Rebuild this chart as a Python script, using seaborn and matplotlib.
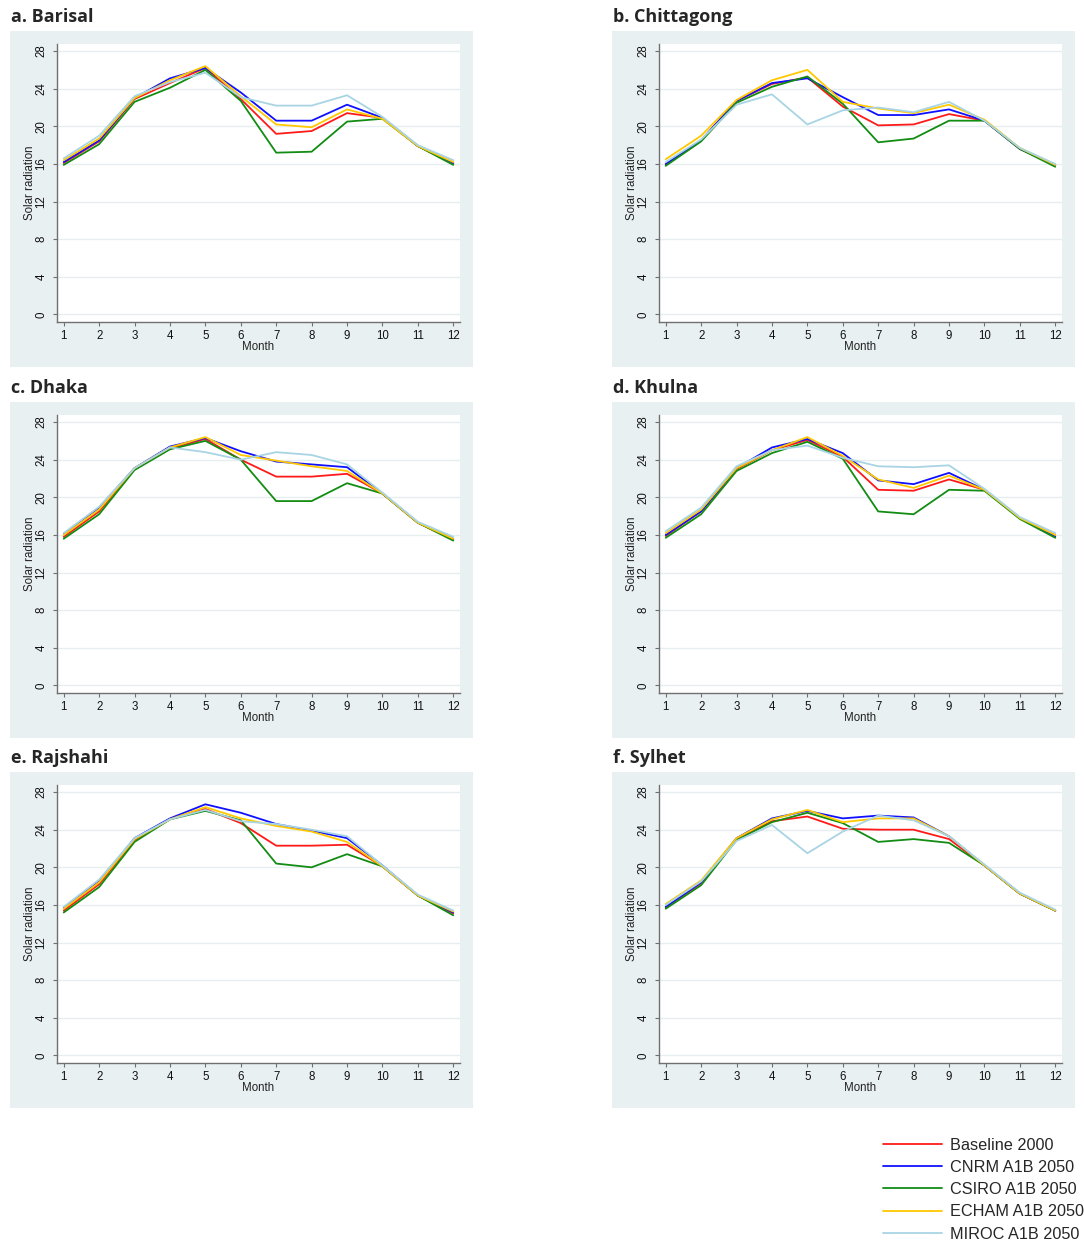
import matplotlib
matplotlib.use("Agg")
import matplotlib.pyplot as plt
import pandas as pd
import seaborn as sns
from matplotlib.lines import Line2D

# ---- data: monthly mean solar radiation ----
months = list(range(1, 13))
scenarios = ["Baseline 2000", "CNRM A1B 2050", "CSIRO A1B 2050",
             "ECHAM A1B 2050", "MIROC A1B 2050"]
line_colors = ["#ff1a1a", "#1010ff", "#128c12", "#ffc800", "#a8d4e4"]
y_ticks = [0, 4, 8, 12, 16, 20, 24, 28]

barisal = {
    "Baseline 2000":  [16.1, 18.4, 22.9, 24.6, 26.2, 22.9, 19.2, 19.5, 21.4, 20.9, 17.9, 16.1],
    "CNRM A1B 2050":  [16.2, 18.5, 23.0, 25.1, 26.2, 23.6, 20.6, 20.6, 22.3, 20.9, 17.9, 16.1],
    "CSIRO A1B 2050": [15.9, 18.1, 22.6, 24.1, 26.0, 22.7, 17.2, 17.3, 20.5, 20.8, 17.9, 15.9],
    "ECHAM A1B 2050": [16.4, 18.7, 23.0, 24.9, 26.4, 23.2, 20.2, 19.9, 21.8, 20.8, 17.9, 16.2],
    "MIROC A1B 2050": [16.6, 19.0, 23.2, 24.7, 25.7, 23.1, 22.2, 22.2, 23.3, 21.0, 18.0, 16.4],
}
chittagong = {
    "Baseline 2000":  [15.9, 18.5, 22.7, 24.5, 25.2, 22.1, 20.1, 20.2, 21.3, 20.6, 17.6, 15.9],
    "CNRM A1B 2050":  [16.0, 18.5, 22.7, 24.6, 25.1, 23.1, 21.2, 21.2, 21.8, 20.6, 17.6, 15.9],
    "CSIRO A1B 2050": [15.8, 18.4, 22.5, 24.2, 25.3, 22.4, 18.3, 18.7, 20.6, 20.6, 17.6, 15.7],
    "ECHAM A1B 2050": [16.5, 19.0, 22.8, 24.9, 26.0, 22.6, 21.9, 21.4, 22.3, 20.7, 17.7, 15.9],
    "MIROC A1B 2050": [16.2, 18.6, 22.3, 23.4, 20.2, 21.7, 22.0, 21.5, 22.6, 20.6, 17.7, 16.0],
}
dhaka = {
    "Baseline 2000":  [15.8, 18.5, 23.1, 25.2, 26.2, 24.0, 22.2, 22.2, 22.5, 20.4, 17.3, 15.5],
    "CNRM A1B 2050":  [16.1, 18.9, 23.1, 25.4, 26.3, 24.9, 23.8, 23.5, 23.2, 20.4, 17.3, 15.6],
    "CSIRO A1B 2050": [15.6, 18.2, 22.9, 25.1, 26.0, 24.0, 19.6, 19.6, 21.5, 20.4, 17.3, 15.4],
    "ECHAM A1B 2050": [16.0, 18.7, 23.1, 25.3, 26.4, 24.5, 23.9, 23.3, 22.8, 20.4, 17.3, 15.6],
    "MIROC A1B 2050": [16.2, 19.0, 23.1, 25.3, 24.8, 24.0, 24.8, 24.5, 23.5, 20.5, 17.4, 15.8],
}
khulna = {
    "Baseline 2000":  [15.9, 18.5, 23.0, 25.0, 26.1, 24.3, 20.8, 20.7, 21.9, 20.8, 17.8, 16.0],
    "CNRM A1B 2050":  [16.0, 18.5, 23.1, 25.3, 26.2, 24.7, 21.8, 21.4, 22.6, 20.8, 17.8, 15.8],
    "CSIRO A1B 2050": [15.7, 18.2, 22.8, 24.7, 25.9, 24.1, 18.5, 18.2, 20.8, 20.7, 17.7, 15.7],
    "ECHAM A1B 2050": [16.2, 18.7, 23.1, 25.0, 26.4, 24.4, 21.9, 21.0, 22.3, 20.8, 17.8, 16.0],
    "MIROC A1B 2050": [16.4, 18.9, 23.3, 25.0, 25.5, 24.2, 23.3, 23.2, 23.4, 20.9, 17.9, 16.2],
}
rajshahi = {
    "Baseline 2000":  [15.4, 18.2, 22.9, 25.1, 26.2, 24.7, 22.3, 22.3, 22.4, 20.1, 17.0, 15.1],
    "CNRM A1B 2050":  [15.7, 18.5, 23.1, 25.2, 26.7, 25.8, 24.6, 23.9, 23.1, 20.2, 17.0, 15.2],
    "CSIRO A1B 2050": [15.2, 17.9, 22.7, 25.1, 26.0, 25.0, 20.4, 20.0, 21.4, 20.1, 17.0, 14.9],
    "ECHAM A1B 2050": [15.6, 18.4, 23.0, 25.1, 26.4, 25.2, 24.4, 23.8, 22.7, 20.1, 17.0, 15.3],
    "MIROC A1B 2050": [15.8, 18.7, 23.1, 25.1, 26.1, 24.9, 24.6, 24.0, 23.3, 20.2, 17.1, 15.4],
}
sylhet = {
    "Baseline 2000":  [15.7, 18.3, 23.0, 24.9, 25.4, 24.1, 24.0, 24.0, 23.0, 20.2, 17.2, 15.4],
    "CNRM A1B 2050":  [15.8, 18.4, 23.1, 25.2, 26.0, 25.2, 25.5, 25.3, 23.3, 20.2, 17.2, 15.4],
    "CSIRO A1B 2050": [15.6, 18.1, 22.9, 24.8, 25.8, 24.7, 22.7, 23.0, 22.6, 20.2, 17.2, 15.4],
    "ECHAM A1B 2050": [16.1, 18.6, 23.1, 25.1, 26.1, 24.8, 25.2, 25.2, 23.3, 20.2, 17.2, 15.4],
    "MIROC A1B 2050": [16.0, 18.5, 22.8, 24.5, 21.5, 23.8, 25.5, 25.0, 23.3, 20.3, 17.3, 15.5],
}

panels = [("a. Barisal", barisal), ("b. Chittagong", chittagong),
          ("c. Dhaka", dhaka), ("d. Khulna", khulna),
          ("e. Rajshahi", rajshahi), ("f. Sylhet", sylhet)]

# ---- style ----
sns.set_theme(style="white")
plt.rcParams["font.family"] = ["Liberation Sans", "DejaVu Sans"]

W, H = 1084, 1243
fig = plt.figure(figsize=(W / 100, H / 100), dpi=100)
fig.patch.set_facecolor("white")

panel_bg = "#e9f0f2"
grid_col = "#e6eef0"
axis_col = "#707070"
palette = dict(zip(scenarios, line_colors))


def px_rect(x0, y0, x1, y1):
    """Pixel box (top-left origin) -> figure fraction [left, bottom, w, h]."""
    return [x0 / W, 1 - y1 / H, (x1 - x0) / W, (y1 - y0) / H]


col_off = [0, 602]
row_off = [0, 371, 741]

for i, (title, city) in enumerate(panels):
    cx = col_off[i % 2]
    ry = row_off[i // 2]

    # shaded panel area behind the plot region
    bg = fig.add_axes(px_rect(10 + cx, 31 + ry, 473 + cx, 367 + ry), zorder=0)
    bg.set_facecolor(panel_bg)
    bg.set_xticks([])
    bg.set_yticks([])
    for sp in bg.spines.values():
        sp.set_visible(False)

    fig.text((11 + cx) / W, 1 - (17 + ry) / H, title, ha="left", va="center",
             fontsize=13, fontweight="bold", family=["Open Sans", "DejaVu Sans"])

    ax = fig.add_axes(px_rect(57 + cx, 44 + ry, 460 + cx, 322 + ry), zorder=1)
    ax.set_facecolor("white")

    df = pd.DataFrame({
        "Month": months * len(scenarios),
        "Solar radiation": [v for s in scenarios for v in city[s]],
        "Scenario": [s for s in scenarios for _ in months],
    })
    sns.lineplot(data=df, x="Month", y="Solar radiation", hue="Scenario",
                 hue_order=scenarios, palette=palette, linewidth=1.3,
                 legend=False, ax=ax, zorder=3)

    ax.set_xlim(0.81, 12.19)
    ax.set_ylim(-0.8, 28.75)
    ax.set_xticks(months)
    ax.set_yticks(y_ticks)
    ax.set_yticklabels([str(t) for t in y_ticks], rotation=90, va="center")
    ax.grid(axis="y", color=grid_col, linewidth=1.0, zorder=0)
    ax.grid(axis="x", visible=False)
    for side in ("top", "right"):
        ax.spines[side].set_visible(False)
    for side in ("left", "bottom"):
        ax.spines[side].set_color(axis_col)
        ax.spines[side].set_linewidth(1.0)
    ax.tick_params(axis="both", direction="out", length=3, width=0.8,
                   color=axis_col, labelsize=8.3, labelcolor="#111111")
    ax.tick_params(axis="x", pad=3)
    ax.tick_params(axis="y", pad=4)
    ax.tick_params(left=True, bottom=True)

    ax.set_xlabel("Month", fontsize=8.3, color="#222222", va="center")
    ax.xaxis.set_label_coords(0.5, -24.7 / 278)
    ax.set_ylabel("Solar radiation", fontsize=8.3, color="#222222", va="center")
    ax.yaxis.set_label_coords(-27 / 403, 0.5)

# ---- shared legend ----
handles = [Line2D([0], [0], color=c, linewidth=1.3) for c in line_colors]
fig.legend(handles, scenarios, loc="upper left",
           bbox_to_anchor=(883 / W, 1 - 1137.5 / H), frameon=False,
           fontsize=11.7, handlelength=3.6, handletextpad=0.55,
           labelspacing=0.45, borderpad=0, borderaxespad=0)

fig.savefig("out.png", dpi=100, facecolor="white")
